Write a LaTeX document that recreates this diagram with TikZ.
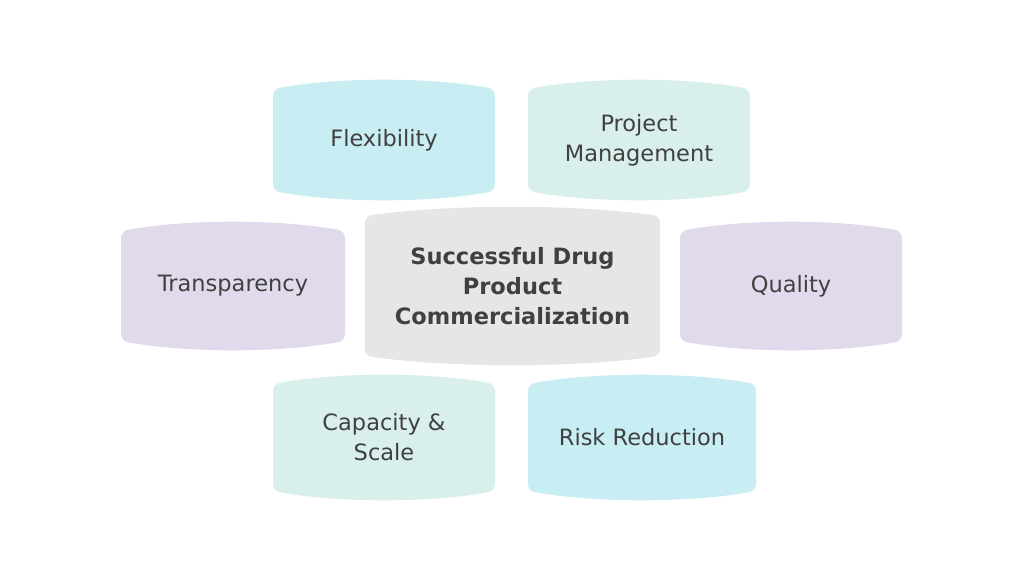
\documentclass[tikz,border=0pt]{standalone}
\usepackage{fontspec}
\setmainfont{DejaVu Sans}
\definecolor{cyanfill}{HTML}{C8EEF3}
\definecolor{mintfill}{HTML}{D9EFEC}
\definecolor{lavfill}{HTML}{E1D9EC}
\definecolor{grayfill}{HTML}{E6E6E6}
\definecolor{txt}{HTML}{404040}
% #1 name, #2 x1, #3 y1, #4 x2, #5 y2, #6 colour, #7 text
\newcommand{\blob}[7]{%
  \pgfmathsetmacro{\wa}{#2+0.3*(#4-#2)}
  \pgfmathsetmacro{\wb}{#2+0.7*(#4-#2)}
  \fill[#6,rounded corners=7pt](#2,#3+9) .. controls (\wa,#3-3) and (\wb,#3-3) .. (#4,#3+9)
    -- (#4,#5-9) .. controls (\wb,#5+3) and (\wa,#5+3) .. (#2,#5-9) -- cycle;
  \node[lbl](#1) at ({(#2+#4)/2},{(#3+#5)/2}){#7};
}
\begin{document}
\begin{tikzpicture}[x=1pt,y=-1pt,
  lbl/.style={align=center,text=txt,font=\fontsize{22.5}{30}\selectfont}]
\useasboundingbox (0,0) rectangle (1024,576);
\fill[white](0,0) rectangle (1024,576);
\blob{flex}{273}{80}{495}{200}{cyanfill}{Flexibility}
\blob{proj}{528}{80}{750}{200}{mintfill}{Project\\Management}
\blob{trans}{121}{222}{345}{350}{lavfill}{Transparency}
\blob{qual}{680}{222}{902}{350}{lavfill}{Quality}
\blob{cap}{273}{375}{495}{500}{mintfill}{Capacity \&\\Scale}
\blob{risk}{528}{375}{756}{500}{cyanfill}{Risk Reduction}
\blob{core}{365}{207}{660}{365}{grayfill}{\textbf{Successful Drug}\\\textbf{Product}\\\textbf{Commercialization}}
\end{tikzpicture}
\end{document}
